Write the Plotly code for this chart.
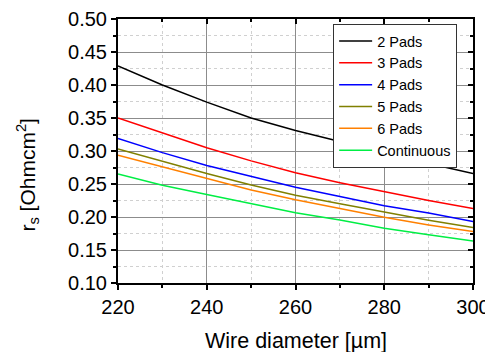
import plotly.graph_objects as go

wire_diameter = [220, 230, 240, 250, 260, 270, 280, 290, 300]
pads2 = [0.429, 0.400, 0.374, 0.350, 0.331, 0.314, 0.298, 0.281, 0.266]
pads3 = [0.350, 0.327, 0.305, 0.285, 0.267, 0.252, 0.238, 0.225, 0.213]
pads4 = [0.319, 0.2975, 0.278, 0.261, 0.245, 0.231, 0.217, 0.206, 0.193]
pads5 = [0.303, 0.284, 0.266, 0.2485, 0.233, 0.220, 0.207, 0.195, 0.184]
pads6 = [0.2935, 0.276, 0.258, 0.241, 0.226, 0.213, 0.1995, 0.188, 0.178]
continuous = [0.265, 0.248, 0.234, 0.220, 0.2065, 0.1955, 0.183, 0.173, 0.1636]

series_names = ["2 Pads", "3 Pads", "4 Pads", "5 Pads", "6 Pads", "Continuous"]
series_values = [pads2, pads3, pads4, pads5, pads6, continuous]
series_colors = ["#000000", "#ff0000", "#0000ff", "#808000", "#ff8000", "#00ee44"]

x_title = "Wire diameter [µm]"
y_title = "r<sub>s</sub> [Ohmcm<sup>2</sup>]"

FONT = "Liberation Sans, Arial, sans-serif"

fig = go.Figure()
for name, vals, col in zip(series_names, series_values, series_colors):
    fig.add_trace(go.Scatter(x=wire_diameter, y=vals, mode="lines", name=name,
                             line=dict(color=col, width=1.5)))

# invisible trace to realise the mirrored (top/right) axes with inside ticks
fig.add_trace(go.Scatter(x=wire_diameter, y=pads2, xaxis="x2", yaxis="y2",
                         mode="lines", line=dict(color="rgba(0,0,0,0)"),
                         showlegend=False, hoverinfo="skip"))

grid_major = "#8c8c8c"
grid_minor = "#d0d0d0"

fig.update_layout(
    width=485, height=344,
    margin=dict(l=110, r=20, t=11, b=69),
    paper_bgcolor="white", plot_bgcolor="white",
    font=dict(family=FONT, color="black"),
    showlegend=True,
    legend=dict(x=0.606, y=0.981, xanchor="left", yanchor="top",
                bgcolor="white", bordercolor="#333333", borderwidth=1,
                font=dict(size=14.5, family=FONT), tracegroupgap=0,
                itemwidth=33),
    xaxis=dict(range=[220, 300], dtick=20, tick0=220, automargin=False,
               showline=True, linecolor="black", linewidth=2,
               ticks="outside", ticklen=5, tickwidth=1.5, tickcolor="black",
               showgrid=True, gridcolor=grid_major, gridwidth=1,
               zeroline=False,
               tickfont=dict(size=20, family=FONT),
               minor=dict(dtick=10, tick0=220, ticks="outside", ticklen=3, tickcolor="black",
                          showgrid=True, gridcolor=grid_minor, griddash="dot", gridwidth=1)),
    yaxis=dict(range=[0.10, 0.50], dtick=0.05, tick0=0.10, tickformat=".2f", automargin=False,
               showline=True, linecolor="black", linewidth=2,
               ticks="outside", ticklen=5, tickwidth=1.5, tickcolor="black",
               showgrid=True, gridcolor=grid_major, gridwidth=1,
               zeroline=False,
               tickfont=dict(size=20, family=FONT),
               minor=dict(dtick=0.025, tick0=0.10, ticks="outside", ticklen=3, tickcolor="black",
                          showgrid=True, gridcolor=grid_minor, griddash="dot", gridwidth=1)),
    xaxis2=dict(overlaying="x", side="top", range=[220, 300], dtick=20, tick0=220, automargin=False,
                showline=True, linecolor="black", linewidth=2,
                ticks="inside", ticklen=5, tickwidth=1.5, tickcolor="black",
                showticklabels=False, showgrid=False, zeroline=False,
                minor=dict(dtick=10, tick0=220, ticks="inside", ticklen=3, tickcolor="black")),
    yaxis2=dict(overlaying="y", side="right", range=[0.10, 0.50], dtick=0.05, tick0=0.10, automargin=False,
                showline=True, linecolor="black", linewidth=2,
                ticks="inside", ticklen=5, tickwidth=1.5, tickcolor="black",
                showticklabels=False, showgrid=False, zeroline=False,
                minor=dict(dtick=0.025, tick0=0.10, ticks="inside", ticklen=3, tickcolor="black")),
    annotations=[
        dict(text=x_title, xref="paper", yref="paper", x=0.5, y=-0.218,
             xanchor="center", yanchor="middle", showarrow=False,
             font=dict(size=21.5, family=FONT)),
        dict(text=y_title, xref="paper", yref="paper", x=-0.254, y=0.41,
             xanchor="center", yanchor="middle", showarrow=False, textangle=-90,
             font=dict(size=21, family=FONT)),
    ],
)

fig.write_html("out.html")
